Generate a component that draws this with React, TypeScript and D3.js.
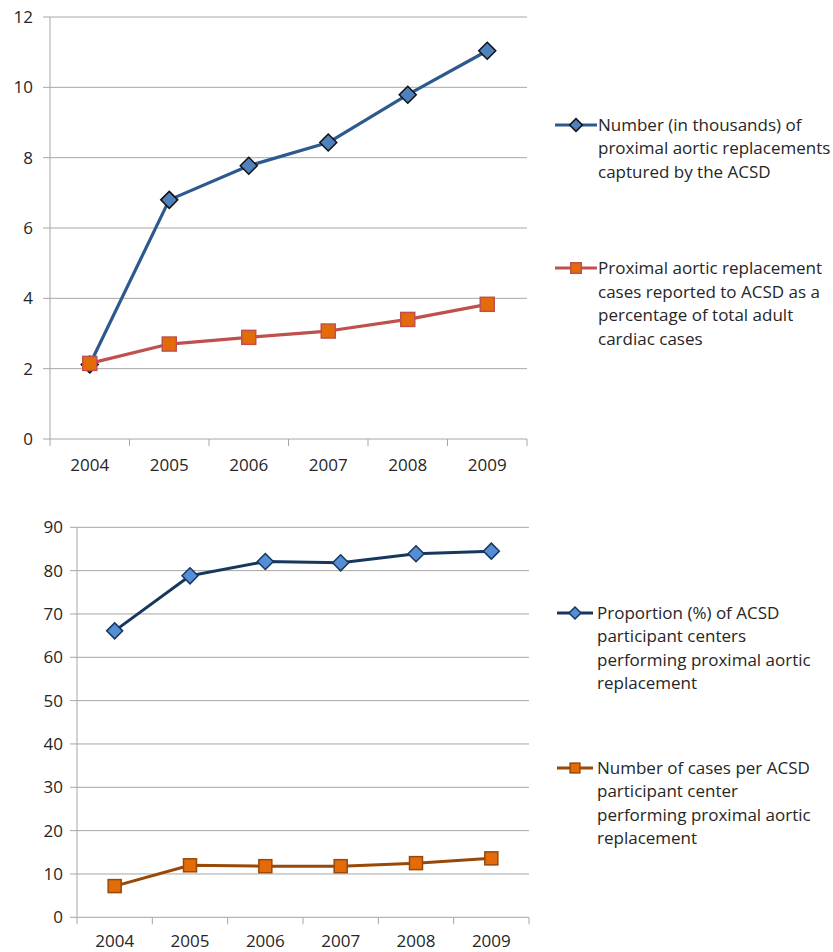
import React from "react";
import * as d3 from "d3";

const years = ["2004", "2005", "2006", "2007", "2008", "2009"];

// Top chart
const topTicks = [0, 2, 4, 6, 8, 10, 12];
const topNumberThousands = [2.12, 6.8, 7.77, 8.43, 9.79, 11.04];
const topPercentCases = [2.15, 2.7, 2.89, 3.07, 3.4, 3.83];
const topLegend1 = ["Number (in thousands) of", "proximal aortic replacements", "captured by the ACSD"];
const topLegend2 = ["Proximal aortic replacement", "cases reported to ACSD as a", "percentage of total adult", "cardiac cases"];

// Bottom chart
const bottomTicks = [0, 10, 20, 30, 40, 50, 60, 70, 80, 90];
const bottomProportion = [66.1, 78.8, 82.1, 81.8, 83.9, 84.5];
const bottomCasesPerCenter = [7.2, 12.0, 11.8, 11.8, 12.5, 13.6];
const bottomLegend1 = ["Proportion (%) of ACSD", "participant centers", "performing proximal aortic", "replacement"];
const bottomLegend2 = ["Number of cases per ACSD", "participant center", "performing proximal aortic", "replacement"];

const FONT = "'Open Sans', 'Liberation Sans', sans-serif";
const GRID = "#a6a6a6";
const TEXT = "#262626";
const FS = 17;

type SeriesDef = {
  values: number[];
  line: string;
  width: number;
  marker: "diamond" | "square";
  fill: string;
  stroke: string;
  size: number;
};

function Marker({ kind, x, y, size, fill, stroke }: { kind: string; x: number; y: number; size: number; fill: string; stroke: string }) {
  const h = size / 2;
  if (kind === "diamond") {
    return <path d={`M${x},${y - h}L${x + h},${y}L${x},${y + h}L${x - h},${y}Z`} fill={fill} stroke={stroke} strokeWidth={1.5} />;
  }
  return <rect x={x - h} y={y - h} width={size} height={size} fill={fill} stroke={stroke} strokeWidth={1.5} />;
}

function Chart({
  left, right, top, bottom, max, ticks, series, labelRight, tickLabelY,
}: {
  left: number; right: number; top: number; bottom: number; max: number; ticks: number[];
  series: SeriesDef[]; labelRight: number; tickLabelY: number;
}) {
  const x = d3.scaleBand<string>().domain(years).range([left, right]);
  const y = d3.scaleLinear().domain([0, max]).range([bottom, top]);
  const cx = (d: string) => (x(d) as number) + x.bandwidth() / 2;
  const line = d3.line<number>().x((_, i) => cx(years[i])).y((v) => y(v));
  const edges = [...years.map((d) => x(d) as number), right];
  return (
    <g>
      {ticks.map((t) => (
        <g key={t}>
          {t !== 0 && <line x1={left} x2={right} y1={y(t)} y2={y(t)} stroke={GRID} strokeWidth={1} />}
          <line x1={left - 7} x2={left} y1={y(t)} y2={y(t)} stroke={GRID} strokeWidth={1} />
          <text x={labelRight} y={y(t)} dy="0.35em" textAnchor="end" fontSize={FS} fill={TEXT} fontFamily={FONT}>{t}</text>
        </g>
      ))}
      <line x1={left} x2={left} y1={top} y2={bottom} stroke={GRID} strokeWidth={1} />
      <line x1={left} x2={right} y1={bottom} y2={bottom} stroke={GRID} strokeWidth={1} />
      {edges.map((e, i) => (
        <line key={i} x1={e} x2={e} y1={bottom} y2={bottom + 7} stroke={GRID} strokeWidth={1} />
      ))}
      {years.map((d) => (
        <text key={d} x={cx(d)} y={tickLabelY} dy="0.35em" textAnchor="middle" fontSize={FS} fill={TEXT} fontFamily={FONT}>{d}</text>
      ))}
      {series.map((s, si) => (
        <g key={si}>
          <path d={line(s.values) || ""} fill="none" stroke={s.line} strokeWidth={s.width} strokeLinejoin="round" />
          {s.values.map((v, i) => (
            <Marker key={i} kind={s.marker} x={cx(years[i])} y={y(v)} size={s.size} fill={s.fill} stroke={s.stroke} />
          ))}
        </g>
      ))}
    </g>
  );
}

function Legend({ x, y, lineX1, lineX2, lines, s, lh }: { x: number; y: number; lineX1: number; lineX2: number; lines: string[]; s: SeriesDef; lh: number }) {
  const mx = (lineX1 + lineX2) / 2;
  return (
    <g>
      <line x1={lineX1} x2={lineX2} y1={y} y2={y} stroke={s.line} strokeWidth={s.width} />
      <Marker kind={s.marker} x={mx} y={y} size={s.size * 0.75} fill={s.fill} stroke={s.stroke} />
      {lines.map((t, i) => (
        <text key={i} x={x} y={y + i * lh} dy="0.35em" fontSize={FS} fill={TEXT} fontFamily={FONT}>{t}</text>
      ))}
    </g>
  );
}

export default function App() {
  const topSeries: SeriesDef[] = [
    { values: topNumberThousands, line: "#2c5a8e", width: 3.2, marker: "diamond", fill: "#4f81bd", stroke: "#111", size: 17 },
    { values: topPercentCases, line: "#c0504d", width: 3.2, marker: "square", fill: "#e36c09", stroke: "#c0504d", size: 14 },
  ];
  const bottomSeries: SeriesDef[] = [
    { values: bottomProportion, line: "#17375e", width: 3, marker: "diamond", fill: "#558ed5", stroke: "#17375e", size: 16 },
    { values: bottomCasesPerCenter, line: "#984807", width: 3, marker: "square", fill: "#e36c09", stroke: "#984807", size: 13 },
  ];
  return (
    <svg width={833} height={952} style={{ position: "absolute", left: 0, top: 0, background: "#fff" }}>
      <rect width={833} height={952} fill="#fff" />
      <Chart left={50} right={527} top={17} bottom={439} max={12} ticks={topTicks} series={topSeries} labelRight={33} tickLabelY={465} />
      <Legend x={598} y={125} lineX1={555} lineX2={597} lines={topLegend1} s={topSeries[0]} lh={23.5} />
      <Legend x={598} y={268} lineX1={555} lineX2={597} lines={topLegend2} s={topSeries[1]} lh={23.7} />
      <Chart left={77} right={529} top={527.3} bottom={917.3} max={90} ticks={bottomTicks} series={bottomSeries} labelRight={63} tickLabelY={941} />
      <Legend x={597} y={613} lineX1={557} lineX2={593} lines={bottomLegend1} s={bottomSeries[0]} lh={23.3} />
      <Legend x={597} y={768} lineX1={557} lineX2={593} lines={bottomLegend2} s={bottomSeries[1]} lh={23.3} />
    </svg>
  );
}
